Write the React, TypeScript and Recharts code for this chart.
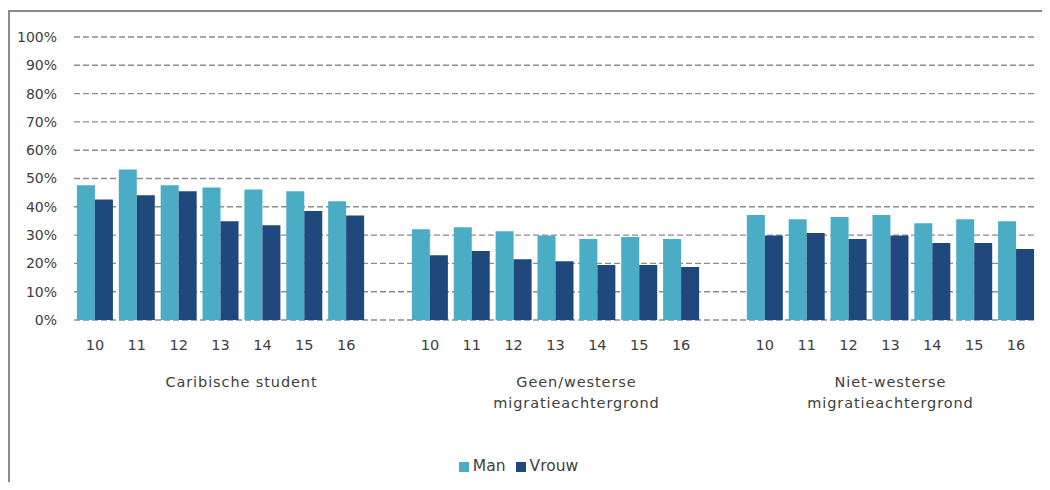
import { Bar, BarChart, CartesianGrid, Legend, XAxis, YAxis } from 'recharts'

const AGES = ['10', '11', '12', '13', '14', '15', '16']

const GROUP_LABELS = [
  ['Caribische student'],
  ['Geen/westerse', 'migratieachtergrond'],
  ['Niet-westerse', 'migratieachtergrond'],
]

const MAN = [
  [47.6, 53.2, 47.6, 46.8, 46.1, 45.5, 42.0],
  [32.1, 32.8, 31.4, 29.9, 28.6, 29.3, 28.6],
  [37.1, 35.6, 36.4, 37.1, 34.2, 35.6, 34.9],
]

const VROUW = [
  [42.6, 44.1, 45.5, 34.9, 33.5, 38.5, 36.9],
  [22.9, 24.4, 21.5, 20.8, 19.4, 19.4, 18.7],
  [29.9, 30.7, 28.6, 29.9, 27.2, 27.2, 25.1],
]

const Y_TICKS = [0, 10, 20, 30, 40, 50, 60, 70, 80, 90, 100]

const CHART_W = 1040
const CHART_H = 470
const MARGIN = { top: 25, right: 13, left: 0, bottom: 2 }
const Y_W = 64
const TEXT = '#404040'

type Row = {
  key: string
  age: string
  group: number
  first: boolean
  span: number
  man: number | null
  vrouw: number | null
}

// one empty slot after each group, except the last
const rows: Row[] = []
GROUP_LABELS.forEach((_, g) => {
  const span = g < GROUP_LABELS.length - 1 ? AGES.length + 1 : AGES.length
  AGES.forEach((age, i) => {
    rows.push({
      key: `${g}-${age}`,
      age,
      group: g,
      first: i === 0,
      span,
      man: MAN[g][i],
      vrouw: VROUW[g][i],
    })
  })
  if (g < GROUP_LABELS.length - 1) {
    rows.push({ key: `gap-${g}`, age: '', group: g, first: false, span, man: null, vrouw: null })
  }
})

const SLOT = (CHART_W - MARGIN.left - MARGIN.right - Y_W) / rows.length

function CategoryTick(props: any) {
  const { x, y, index } = props
  const row = rows[index]
  if (!row) return null
  const shift = ((row.span - 1) / 2) * SLOT
  return (
    <g>
      <text x={x} y={y + 30} textAnchor="middle" fill={TEXT} fontSize={14.5}>
        {row.age}
      </text>
      {row.first &&
        GROUP_LABELS[row.group].map((line, i) => (
          <text
            key={i}
            x={x + shift}
            y={y + 67 + i * 21}
            textAnchor="middle"
            fill={TEXT}
            fontSize={14.5}
            letterSpacing={0.9}
          >
            {line}
          </text>
        ))}
    </g>
  )
}

export default function App() {
  return (
    <div
      style={{
        marginTop: 2,
        width: 1042,
        height: 472,
        boxSizing: 'border-box',
        borderLeft: '2px solid #8a8a8a',
        borderTop: '2px solid #8a8a8a',
        fontFamily: '"DejaVu Sans", sans-serif',
        overflow: 'hidden',
      }}
    >
      <BarChart
        width={CHART_W}
        height={CHART_H}
        data={rows}
        margin={MARGIN}
        barCategoryGap="7%"
        barGap={0}
      >
        <CartesianGrid vertical={false} stroke="#8c8c8c" strokeWidth={1.4} strokeDasharray="6 3" />
        <XAxis
          dataKey="key"
          interval={0}
          axisLine={false}
          tickLine={false}
          tickSize={0}
          tickMargin={0}
          height={136}
          tick={<CategoryTick />}
        />
        <YAxis
          width={Y_W}
          domain={[0, 100]}
          ticks={Y_TICKS}
          axisLine={false}
          tickLine={false}
          tickSize={0}
          tickMargin={17}
          tick={{ fontSize: 14, fill: TEXT }}
          tickFormatter={(v) => `${v}%`}
        />
        <Legend
          height={24}
          iconType="square"
          iconSize={10}
          formatter={(value) => (
            <span style={{ color: TEXT, fontSize: 15.5 }}>{value}</span>
          )}
        />
        <Bar dataKey="man" name="Man" fill="#4BACC6" isAnimationActive={false} />
        <Bar dataKey="vrouw" name="Vrouw" fill="#1F497D" isAnimationActive={false} />
      </BarChart>
    </div>
  )
}
